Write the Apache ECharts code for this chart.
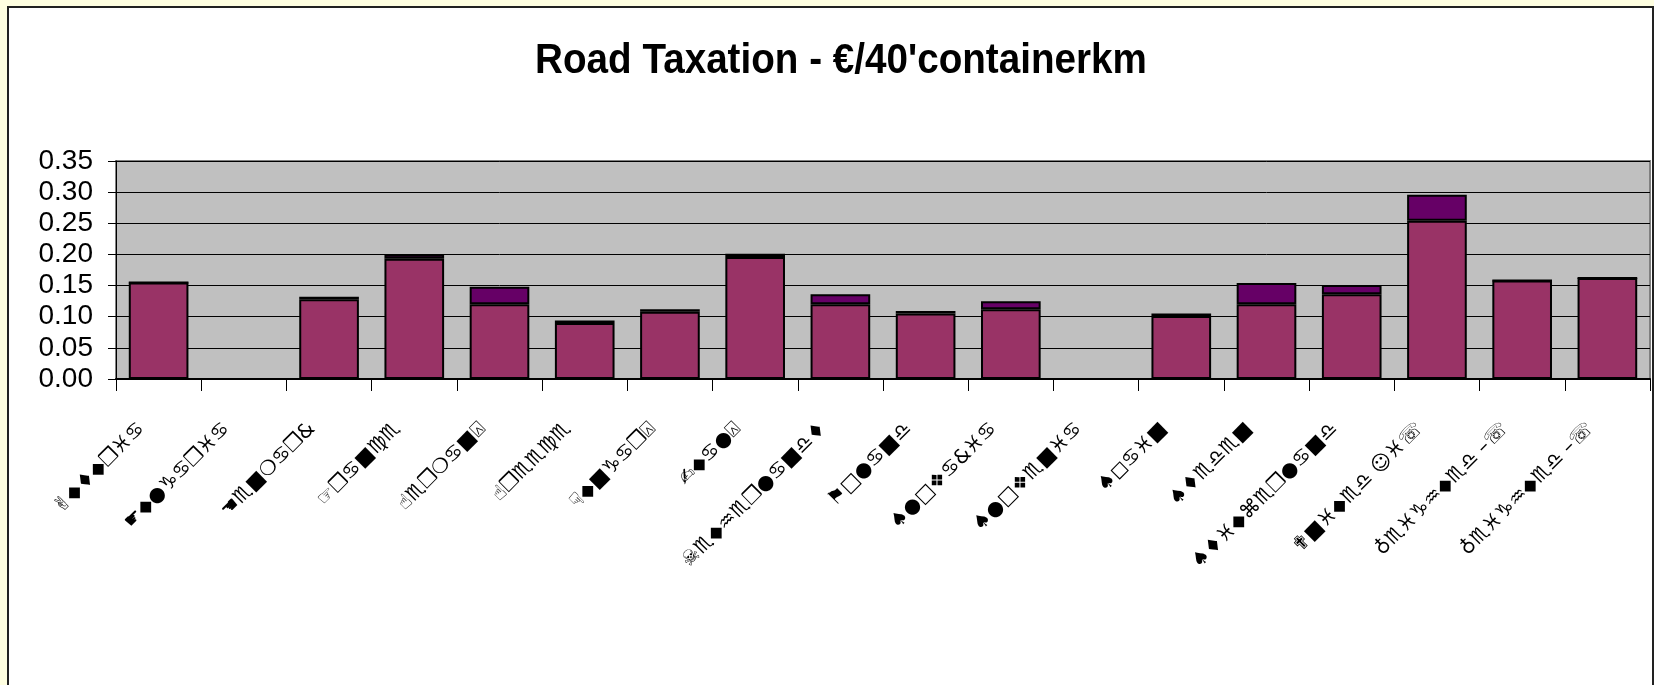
<!DOCTYPE html>
<html>
<head>
<meta charset="utf-8">
<script src="https://cdn.jsdelivr.net/npm/echarts@6/dist/echarts.min.js"></script>
<style>
  html, body { margin: 0; padding: 0; width: 1654px; height: 685px; background: #FFFFE1; overflow: hidden; }
  #frame { position: absolute; left: 7px; top: 6px; width: 1647px; height: 700px; background: #FFFFFF; border: 2px solid #222; box-sizing: border-box; }
  #chart { position: absolute; left: 0; top: 0; width: 1654px; height: 685px; }
</style>
</head>
<body>
<div id="frame"></div>
<div id="chart"></div>
<script>
// Categories (country names, displayed in the reference with a Wingdings symbol font)
const categories = ['Austria','Bulgaria','Denmark','France','Germany','Greece','Hungary','Italy','Netherlands','Poland','Slovakia','Slovenia','Spain','Sweden','Switzerland','United Kingdom','Weighted - 1','Weighted - 2'];
// Tick labels as they appear (symbol glyphs)
const tickLabels = ['✌◆♦◆❒♓♋','☛◆●♑♋❒♓♋','☚♏■❍♋❒&','☞❒♋■♍♏','☝♏❒❍♋■⍓','☝❒♏♏♍♏','☟◆■♑♋❒⍓','✍◆♋●⍓','☠♏◆♒♏❒●♋■♎♦','⚑□●♋■♎','♠●□❖♋&♓♋','♠●□❖♏■♓♋','♠◻♋♓■','♠♦♏♎♏■','♠♦♓◆⌘♏❒●♋■♎','✟■♓◆♏♎ ☺♓☏','♁♏♓♑♒◆♏♎ –☏','♁♏♓♑♒◆♏♎ –☏'];
// Lower segment values (€/40' container km)
const baseValues = [0.155, null, 0.128, 0.193, 0.120, 0.090, 0.108, 0.196, 0.120, 0.105, 0.112, null, 0.101, 0.120, 0.136, 0.254, 0.158, 0.162];
// Upper segment values
const topValues  = [0, null, 0.004, 0.007, 0.028, 0.004, 0.004, 0.005, 0.016, 0.004, 0.013, null, 0.004, 0.034, 0.015, 0.042, 0, 0];
const yTicks = { min: 0, max: 0.35, interval: 0.05 };
const titleText = "Road Taxation - €/40'containerkm";

const chart = echarts.init(document.getElementById('chart'), null, { renderer: 'canvas' });
chart.setOption({
  backgroundColor: 'transparent',
  animation: false,
  graphic: [{
    type: 'text', x: 841, y: 61, scaleX: 0.92,
    style: {
      text: titleText, textAlign: 'center', textVerticalAlign: 'middle',
      font: 'bold 42px "Liberation Sans", Arial, sans-serif', fill: '#000'
    }
  }],
  grid: {
    left: 116, top: 161, right: 4, bottom: 306,
    show: true, backgroundColor: '#C0C0C0', borderColor: '#808080', borderWidth: 2
  },
  xAxis: {
    type: 'category',
    data: categories,
    axisLine: { lineStyle: { color: '#000', width: 2 } },
    axisTick: { show: true, length: 12, lineStyle: { color: '#000', width: 1 } },
    axisLabel: {
      interval: 0, rotate: 45, margin: 30, padding: [0, 24, 0, 0],
      fontFamily: '"DejaVu Sans", sans-serif', fontSize: 20, color: '#000',
      formatter: (v, i) => tickLabels[i]
    }
  },
  yAxis: {
    type: 'value',
    min: yTicks.min, max: yTicks.max, interval: yTicks.interval,
    axisLine: { show: true, lineStyle: { color: '#000', width: 1 } },
    axisTick: { show: true, length: 8, lineStyle: { color: '#000' } },
    axisLabel: { margin: 23, fontFamily: '"Liberation Sans", Arial, sans-serif', fontSize: 28, color: '#000', formatter: v => v.toFixed(2) },
    splitLine: { show: true, lineStyle: { color: '#000', width: 1 } }
  },
  series: [
    { name: 'base', type: 'bar', stack: 't', data: baseValues, barWidth: '70%',
      itemStyle: { color: '#993366', borderColor: '#000', borderWidth: 2 } },
    { name: 'top', type: 'bar', stack: 't', data: topValues, barWidth: '70%',
      itemStyle: { color: '#660066', borderColor: '#000', borderWidth: 2 } }
  ]
});
</script>
</body>
</html>
